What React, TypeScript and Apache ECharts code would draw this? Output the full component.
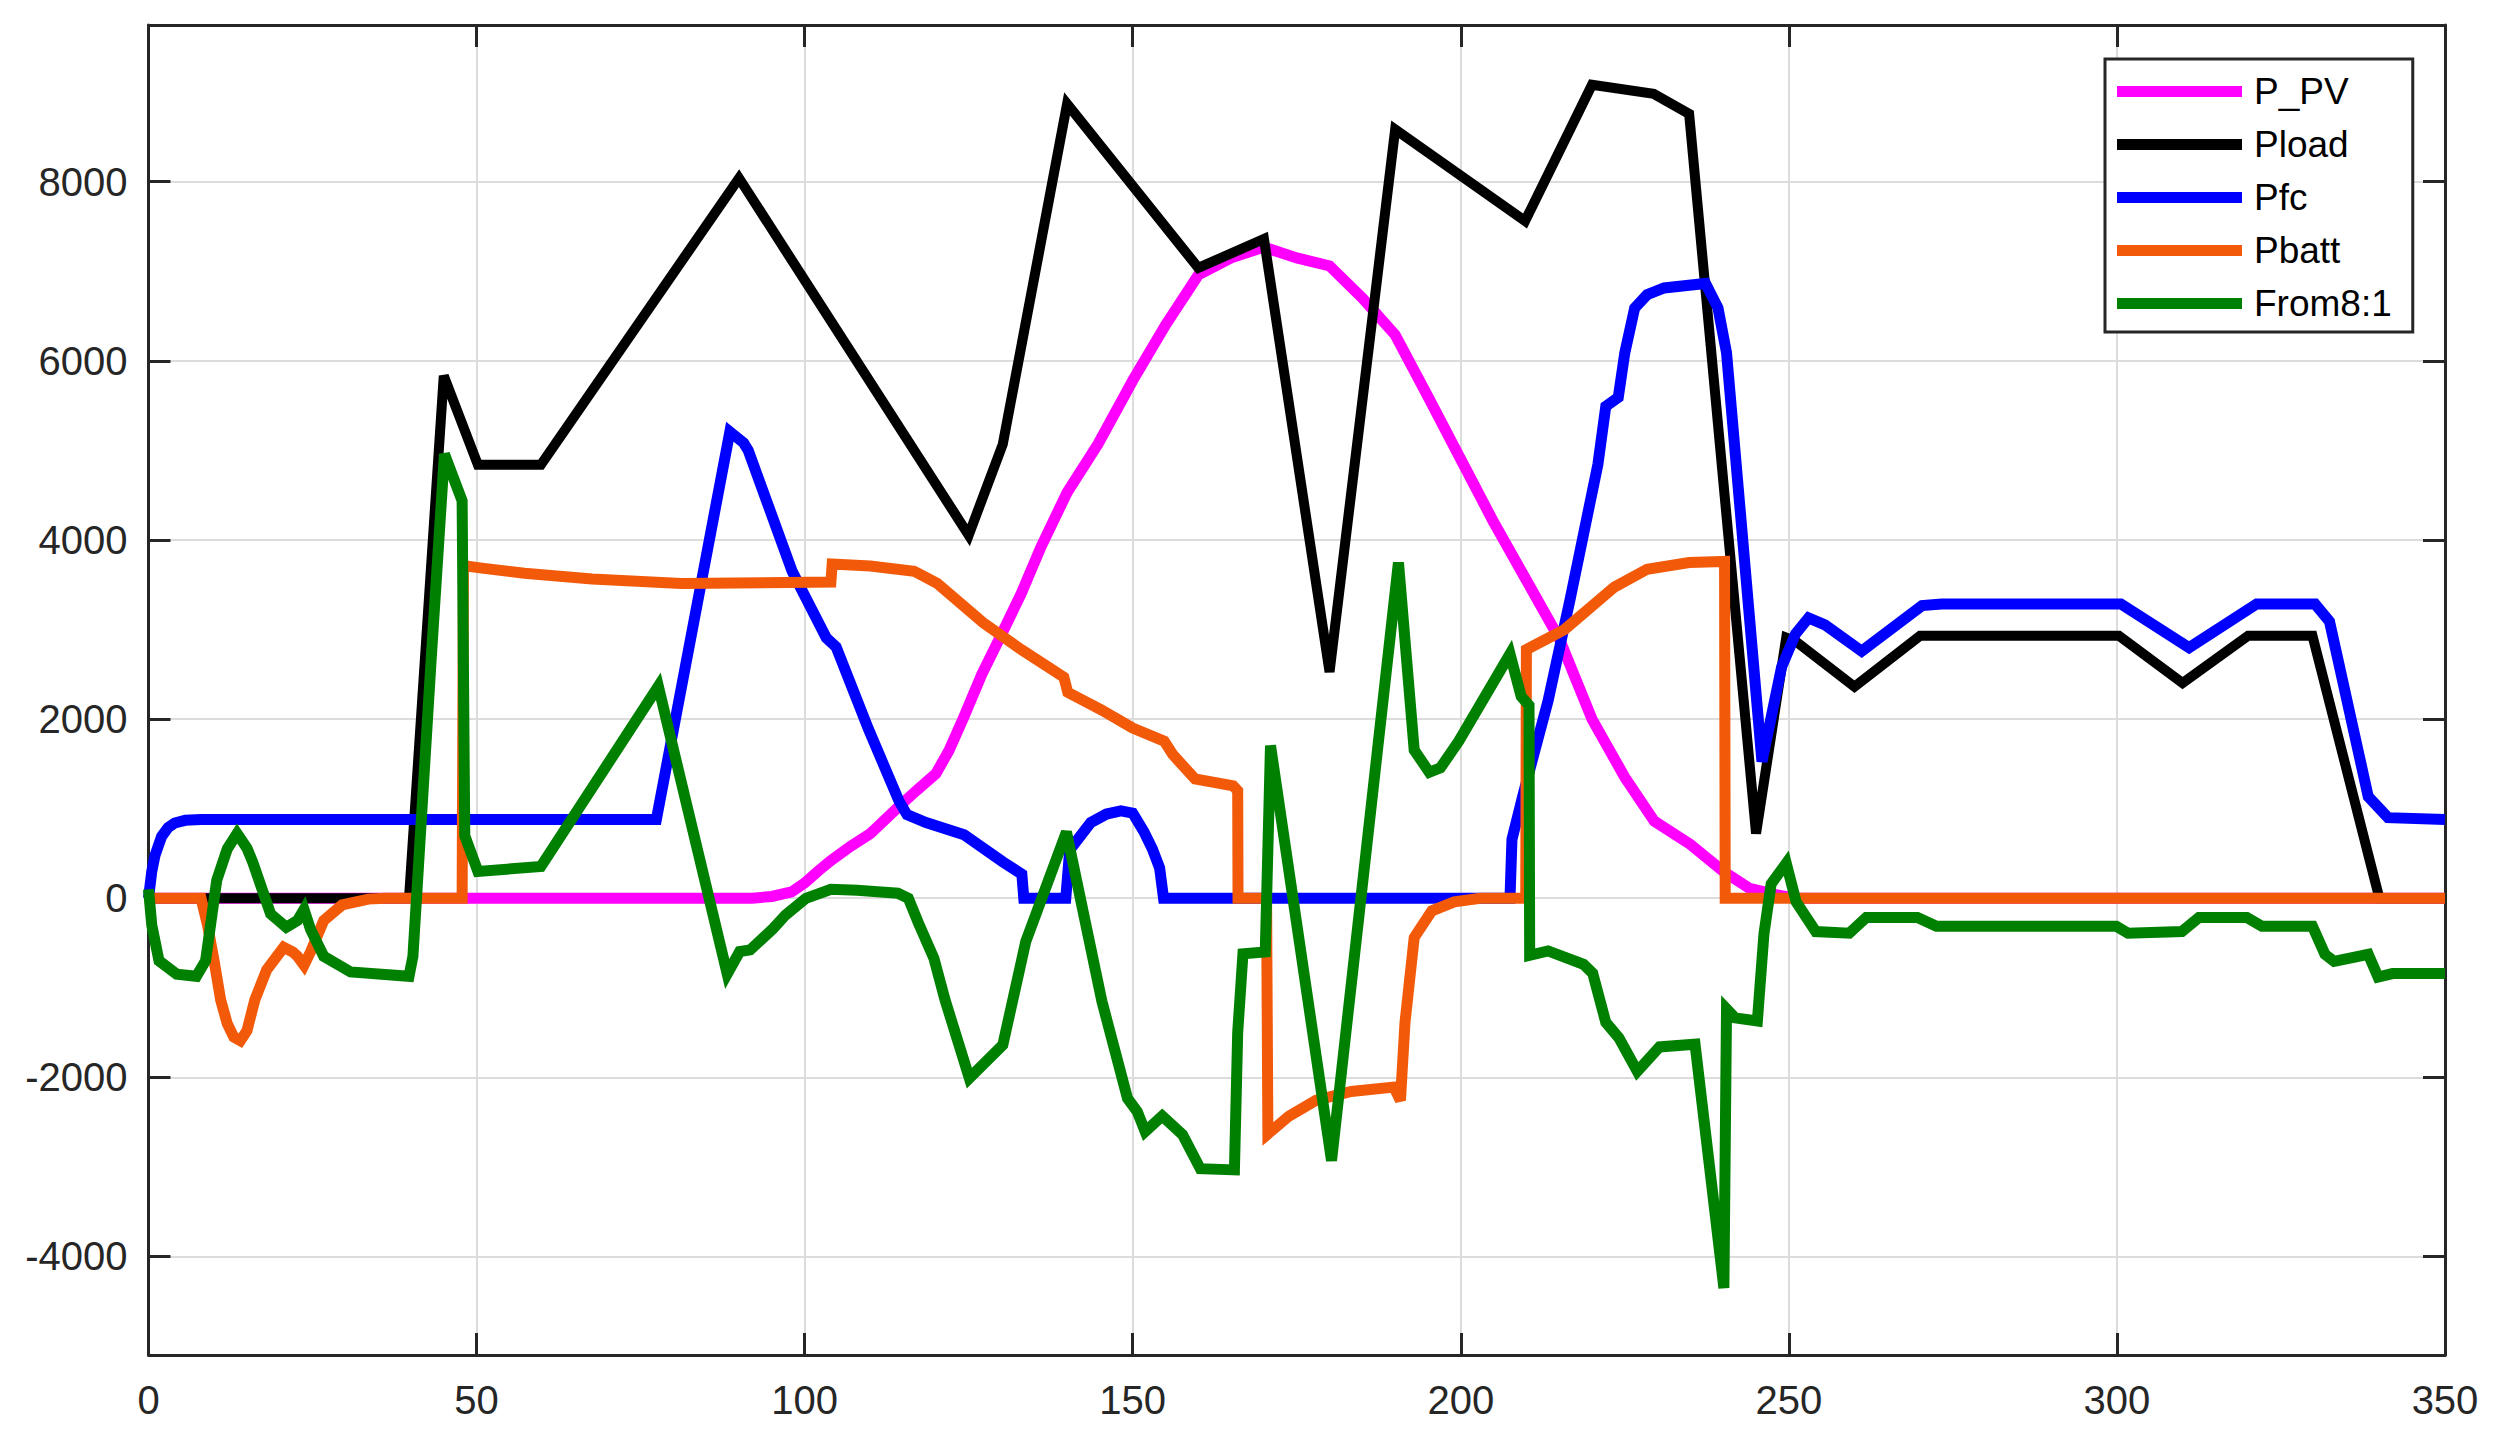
import React, { useEffect, useRef } from "react";
import * as echarts from "echarts";

// ---- data (time, power) ----
const P_PV: [number, number][] = [
  [0, 0], [92, 0], [95, 20], [98, 70], [100, 170], [102, 300], [104, 420], [107, 580],
  [110, 720], [114, 1000], [117, 1200], [120, 1390], [122, 1650], [124.3, 2030], [127, 2500],
  [130.2, 2975], [133, 3400], [136, 3920], [140, 4530], [144.7, 5070], [150, 5780], [155, 6400],
  [160, 6960], [165, 7150], [170, 7270], [175, 7150], [180, 7060], [185, 6700], [190, 6290],
  [195, 5600], [200, 4900], [205, 4200], [210, 3550], [215, 2900], [220, 2000], [225, 1350],
  [229.5, 860], [235, 600], [240, 300], [244, 110], [248, 40], [251, 0], [350, 0],
];

const PLOAD: [number, number][] = [
  [0, 0], [39.7, 0], [45, 5833], [50.2, 4840], [59.8, 4840], [90, 8040], [125, 4054],
  [130.2, 5070], [140, 8870], [160, 7038], [170, 7362], [180, 2527], [190, 8583],
  [209.8, 7561], [220, 9082], [229.4, 8982], [234.8, 8758], [245, 723], [249.6, 2910],
  [251, 2871], [260, 2363], [270, 2930], [300.3, 2930], [310, 2402], [320, 2930],
  [329.8, 2930], [340, 0], [350, 0],
];

const PFC: [number, number][] = [
  [0, 0], [0.5, 300], [1, 480], [2, 690], [3, 790], [4, 840], [5.6, 870], [8, 878],
  [77.4, 878], [88.6, 5209], [90.7, 5085], [91.4, 5000], [98.1, 3650], [103.3, 2907],
  [104.8, 2806], [109.7, 1893], [114.4, 1082], [115.6, 933], [118.5, 845], [124.3, 710],
  [130.2, 406], [133.1, 270], [133.4, 0], [139.8, 0], [140.4, 540], [143.6, 845], [146, 940],
  [148.2, 975], [150, 950], [151.7, 744], [153, 550], [154.1, 338], [154.7, 0], [207.5, 0],
  [207.8, 658], [209.5, 1157], [213.3, 2203], [216.7, 3350], [220.9, 4845], [222.1, 5493],
  [224, 5592], [225, 6090], [226.5, 6589], [228.4, 6739], [231, 6814], [237.3, 6864],
  [239.2, 6589], [240.5, 6090], [245.9, 1526], [248.9, 2582], [251, 2950], [253, 3130],
  [255.5, 3052], [261.1, 2758], [270.3, 3267], [273.3, 3286], [300.6, 3286], [311, 2797],
  [321.3, 3286], [330.2, 3286], [332.4, 3090], [338.3, 1135], [341.3, 900], [350, 880],
];

const PBATT: [number, number][] = [
  [0, 0], [8, 0], [9, -300], [10, -700], [11, -1137], [12, -1400], [13, -1550], [14, -1590],
  [15, -1480], [16.2, -1137], [18, -800], [20.6, -548], [22, -600], [22.7, -648], [23.7, -748],
  [24.7, -598], [26.7, -249], [29.5, -75], [33.5, -10], [36, 0], [47.8, 0], [48, 3714],
  [50.5, 3689], [57.3, 3629], [67.6, 3564], [81.2, 3514], [104, 3530], [104.2, 3732],
  [110, 3710], [116.7, 3651], [120.2, 3516], [127.2, 3076], [133.1, 2772], [139.5, 2468],
  [140.1, 2299], [145.2, 2104], [150, 1900], [154.8, 1755], [156.1, 1605], [159.5, 1331],
  [165.3, 1256], [166, 1200], [166.05, 0], [170.4, 0], [170.6, -2632], [173.8, -2433],
  [177.9, -2258], [183.3, -2158], [189.8, -2109], [190.8, -2258], [191.5, -1386],
  [192.9, -439], [195.6, -140], [199, -40], [203, 0], [209.9, 0], [210, 2777], [215.8, 3000],
  [223.4, 3474], [228.4, 3673], [234.8, 3748], [240.2, 3760], [240.3, 0], [350, 0],
];

const FROM8: [number, number][] = [
  [0, 100], [0.5, -300], [1.6, -698], [4.3, -847], [7.3, -872], [8.7, -698], [10.4, 200],
  [12, 550], [13.5, 723], [15, 560], [15.9, 399], [18.6, -174], [21, -324], [22.7, -249],
  [23.7, -125], [24.7, -349], [26.7, -648], [30.8, -823], [39.7, -872], [40.3, -648],
  [43.1, 2692], [45.1, 4960], [47.8, 4437], [48.2, 698], [50.2, 299], [59.8, 354],
  [77.7, 2366], [88.2, -845], [90.1, -595], [91.7, -577], [95.2, -338], [97.1, -186],
  [100.2, 0], [104, 100], [108, 90], [114.2, 56], [115.8, 0], [117.3, -270], [119.7, -670],
  [121.4, -1136], [125.1, -2010], [130.2, -1638], [133.7, -484], [139.9, 740], [145.3, -1150],
  [149.2, -2233], [150.7, -2383], [151.9, -2605], [154.5, -2430], [157.6, -2640],
  [160.3, -3020], [165.5, -3033], [166, -1500], [166.8, -620], [170.2, -600], [171, 1705],
  [180.3, -2931], [190.5, 3748], [192.9, 1655], [195.2, 1406], [196.9, 1456], [199.7, 1755],
  [207.5, 2727], [209.2, 2253], [210.4, 2154], [210.5, -638], [213.3, -588], [218.7, -738],
  [220.1, -837], [222.1, -1386], [224.1, -1560], [226.9, -1934], [230.3, -1660],
  [235.7, -1630], [240.1, -4352], [240.5, -1236], [241.8, -1336], [245.2, -1370],
  [246.2, -400], [247.3, 160], [249.6, 391], [251.1, -39], [254.1, -372], [259.2, -391],
  [261.8, -215], [269.6, -215], [272.5, -313], [299.9, -313], [301.7, -391], [309.9, -372],
  [312.5, -215], [319.8, -215], [322.1, -313], [329.8, -313], [331.7, -626], [333.1, -704],
  [338.3, -626], [339.8, -880], [342, -841], [350, -841],
];

const SERIES_NAMES = ["P_PV", "Pload", "Pfc", "Pbatt", "From8:1"];
const SERIES_DATA = [P_PV, PLOAD, PFC, PBATT, FROM8];
const SERIES_COLORS = ["#ff00ff", "#000000", "#0000ff", "#f25a0a", "#008000"];

const X_MIN = 0;
const X_MAX = 350;
const X_STEP = 50;
const Y_MIN = -5100;
const Y_MAX = 9750;
const Y_STEP = 2000;

const AXIS_COLOR = "#262626";
const FONT = "'Liberation Sans', Arial, Helvetica, sans-serif";

export default function App() {
  const ref = useRef<HTMLDivElement>(null);

  useEffect(() => {
    if (!ref.current) return;
    const chart = echarts.init(ref.current, undefined, { renderer: "svg" });

    const axisLine = { show: true, onZero: false, lineStyle: { color: AXIS_COLOR, width: 3 } };
    const axisTick = { show: true, inside: true, length: 22, lineStyle: { color: AXIS_COLOR, width: 3 } };
    const splitLine = { show: true, lineStyle: { color: "#dcdcdc", width: 2 } };

    const yBase = {
      type: "value" as const,
      min: Y_MIN,
      max: Y_MAX,
      splitNumber: 7,
      minInterval: Y_STEP,
      maxInterval: Y_STEP,
      axisLine,
      axisTick,
    };

    chart.setOption({
      animation: false,
      backgroundColor: "#ffffff",
      color: SERIES_COLORS,
      grid: { left: 148.5, top: 25, right: 69, bottom: 82, containLabel: false },
      xAxis: [
        {
          type: "value",
          min: X_MIN,
          max: X_MAX,
          interval: X_STEP,
          position: "bottom",
          axisLine,
          axisTick,
          axisLabel: { fontSize: 40, color: AXIS_COLOR, fontFamily: FONT, margin: 25 },
          splitLine,
        },
        {
          type: "value",
          min: X_MIN,
          max: X_MAX,
          interval: X_STEP,
          position: "top",
          axisLine,
          axisTick,
          axisLabel: { show: false },
          splitLine: { show: false },
        },
      ],
      yAxis: [
        {
          ...yBase,
          position: "left",
          axisLabel: {
            fontSize: 40,
            color: AXIS_COLOR,
            fontFamily: FONT,
            margin: 21,
            showMinLabel: false,
            showMaxLabel: false,
            formatter: (v: number) => (v % Y_STEP === 0 ? String(v) : ""),
          },
          splitLine,
        },
        {
          ...yBase,
          position: "right",
          axisLabel: { show: false },
          splitLine: { show: false },
        },
      ],
      legend: {
        show: true,
        orient: "vertical",
        left: 2105,
        top: 59,
        data: SERIES_NAMES,
        icon: "rect",
        itemWidth: 125,
        itemHeight: 11,
        itemGap: 16,
        padding: [14, 21, 10, 12],
        backgroundColor: "#ffffff",
        borderColor: AXIS_COLOR,
        borderWidth: 3,
        borderRadius: 0,
        selectedMode: false,
        itemStyle: { borderWidth: 0 },
        textStyle: {
          fontSize: 37,
          lineHeight: 36,
          color: "#000000",
          fontFamily: FONT,
          padding: [0, 0, 0, 7],
        },
      },
      series: SERIES_NAMES.map((name, i) => ({
        name,
        type: "line",
        data: SERIES_DATA[i],
        xAxisIndex: 0,
        yAxisIndex: 0,
        symbol: "none",
        showSymbol: false,
        silent: true,
        z: 2 + i,
        itemStyle: { color: SERIES_COLORS[i] },
        lineStyle: {
          color: SERIES_COLORS[i],
          width: name === "Pload" ? 10 : 11,
          join: "miter",
          miterLimit: 3,
        },
      })),
    });

    return () => chart.dispose();
  }, []);

  return (
    <div
      ref={ref}
      style={{ position: "fixed", left: 0, top: 0, width: 2514, height: 1437, background: "#fff" }}
    />
  );
}
